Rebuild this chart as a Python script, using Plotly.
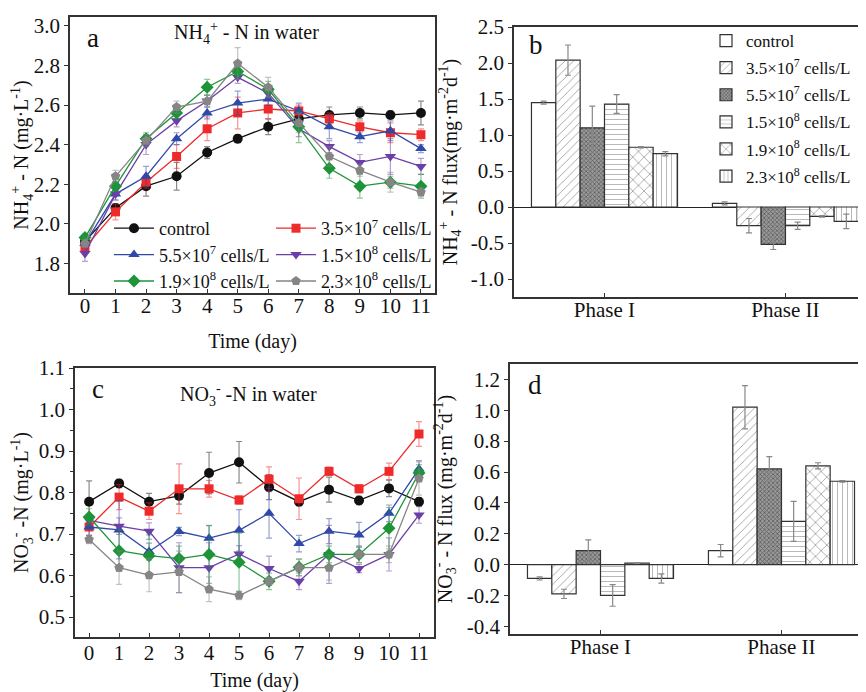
import plotly.graph_objects as go

# ---------------- data ----------------
days = list(range(12))
series_names = ["control", "3.5×10<sup>7</sup> cells/L", "5.5×10<sup>7</sup> cells/L",
                "1.5×10<sup>8</sup> cells/L", "1.9×10<sup>8</sup> cells/L", "2.3×10<sup>8</sup> cells/L"]

nh4_control = [1.91, 2.08, 2.19, 2.24, 2.36, 2.43, 2.49, 2.53, 2.55, 2.56, 2.55, 2.56]
nh4_35e7    = [1.88, 2.06, 2.21, 2.34, 2.48, 2.56, 2.58, 2.57, 2.53, 2.49, 2.46, 2.45]
nh4_55e7    = [1.90, 2.15, 2.24, 2.43, 2.56, 2.61, 2.63, 2.57, 2.49, 2.44, 2.47, 2.38]
nh4_15e8    = [1.85, 2.15, 2.40, 2.52, 2.62, 2.74, 2.66, 2.48, 2.39, 2.31, 2.34, 2.29]
nh4_19e8    = [1.93, 2.19, 2.43, 2.56, 2.69, 2.77, 2.68, 2.49, 2.28, 2.19, 2.21, 2.19]
nh4_23e8    = [1.90, 2.24, 2.42, 2.59, 2.62, 2.81, 2.69, 2.51, 2.34, 2.27, 2.21, 2.16]

nh4_err_control = [0.02, 0.02, 0.05, 0.07, 0.03, 0.02, 0.04, 0.03, 0.04, 0.03, 0.02, 0.06]
nh4_err_35e7    = [0.02, 0.04, 0.03, 0.06, 0.06, 0.08, 0.05, 0.03, 0.03, 0.03, 0.05, 0.03]
nh4_err_55e7    = [0.02, 0.03, 0.05, 0.03, 0.03, 0.06, 0.03, 0.04, 0.06, 0.03, 0.05, 0.02]
nh4_err_15e8    = [0.04, 0.03, 0.05, 0.03, 0.03, 0.03, 0.03, 0.04, 0.03, 0.04, 0.09, 0.04]
nh4_err_19e8    = [0.02, 0.02, 0.03, 0.03, 0.04, 0.03, 0.04, 0.08, 0.05, 0.06, 0.03, 0.06]
nh4_err_23e8    = [0.02, 0.03, 0.03, 0.03, 0.03, 0.08, 0.05, 0.05, 0.05, 0.03, 0.05, 0.02]

no3_control = [0.778, 0.822, 0.778, 0.792, 0.847, 0.873, 0.813, 0.778, 0.807, 0.781, 0.810, 0.778]
no3_35e7    = [0.717, 0.789, 0.755, 0.809, 0.809, 0.782, 0.832, 0.785, 0.851, 0.809, 0.851, 0.941]
no3_55e7    = [0.717, 0.710, 0.658, 0.706, 0.690, 0.709, 0.750, 0.677, 0.707, 0.698, 0.750, 0.857]
no3_15e8    = [0.733, 0.719, 0.707, 0.619, 0.619, 0.652, 0.617, 0.586, 0.651, 0.617, 0.651, 0.746]
no3_19e8    = [0.741, 0.660, 0.648, 0.641, 0.651, 0.632, 0.586, 0.620, 0.651, 0.651, 0.714, 0.847]
no3_23e8    = [0.687, 0.619, 0.601, 0.609, 0.567, 0.552, 0.586, 0.619, 0.619, 0.651, 0.651, 0.834]

no3_err_control = [0.05, 0.01, 0.02, 0.02, 0.05, 0.05, 0.03, 0.01, 0.03, 0.01, 0.02, 0.01]
no3_err_35e7    = [0.02, 0.03, 0.02, 0.06, 0.02, 0.01, 0.03, 0.05, 0.01, 0.01, 0.02, 0.03]
no3_err_55e7    = [0.02, 0.07, 0.02, 0.01, 0.03, 0.05, 0.06, 0.02, 0.03, 0.03, 0.02, 0.02]
no3_err_15e8    = [0.01, 0.02, 0.02, 0.06, 0.06, 0.02, 0.03, 0.02, 0.07, 0.01, 0.04, 0.02]
no3_err_19e8    = [0.02, 0.05, 0.05, 0.03, 0.07, 0.07, 0.02, 0.02, 0.02, 0.02, 0.05, 0.02]
no3_err_23e8    = [0.01, 0.04, 0.04, 0.05, 0.03, 0.01, 0.01, 0.02, 0.03, 0.02, 0.02, 0.04]

phases = ["Phase I", "Phase II"]
nh4_flux     = [[1.45, 0.05], [2.04, -0.26], [1.10, -0.52], [1.43, -0.26], [0.83, -0.13], [0.74, -0.20]]
nh4_flux_err = [[0.02, 0.02], [0.21, 0.10], [0.30, 0.07], [0.13, 0.05], [0.01, 0.01], [0.03, 0.10]]
no3_flux     = [[-0.09, 0.09], [-0.19, 1.02], [0.09, 0.62], [-0.20, 0.28], [0.01, 0.64], [-0.09, 0.54]]
no3_flux_err = [[0.01, 0.04], [0.03, 0.14], [0.07, 0.08], [0.07, 0.13], [0.003, 0.02], [0.03, 0.005]]

nh4_flux_ticks = [-1.0, -0.5, 0.0, 0.5, 1.0, 1.5, 2.0, 2.5]
no3_flux_ticks = [-0.4, -0.2, 0.0, 0.2, 0.4, 0.6, 0.8, 1.0, 1.2]

# ---------------- styles ----------------
FONT = "Liberation Serif"
line_colors = ["#111111", "#EE2A2A", "#3048A8", "#6B3FA8", "#1E9438", "#858585"]
err_colors = ["rgba(60,60,60,0.6)", "rgba(238,42,42,0.5)", "rgba(48,72,168,0.5)",
              "rgba(107,63,168,0.5)", "rgba(30,148,56,0.5)", "rgba(133,133,133,0.5)"]
symbols = ["circle", "square", "triangle-up", "triangle-down", "diamond", "pentagon"]
msizes = [10, 9, 10, 10, 10, 10]
patterns = [dict(shape=""), dict(shape="/", size=6, solidity=0.15, fgcolor="#444", bgcolor="white"),
            dict(shape="x", size=3, solidity=0.45, fgcolor="#222", bgcolor="#999"),
            dict(shape="-", size=5, solidity=0.15, fgcolor="#444", bgcolor="white"),
            dict(shape="x", size=8, solidity=0.2, fgcolor="#444", bgcolor="white"),
            dict(shape="|", size=5, solidity=0.15, fgcolor="#444", bgcolor="white")]

nh4_series = [nh4_control, nh4_35e7, nh4_55e7, nh4_15e8, nh4_19e8, nh4_23e8]
nh4_errs = [nh4_err_control, nh4_err_35e7, nh4_err_55e7, nh4_err_15e8, nh4_err_19e8, nh4_err_23e8]
no3_series = [no3_control, no3_35e7, no3_55e7, no3_15e8, no3_19e8, no3_23e8]
no3_errs = [no3_err_control, no3_err_35e7, no3_err_55e7, no3_err_15e8, no3_err_19e8, no3_err_23e8]

fig = go.Figure()

for i in range(6):
    fig.add_trace(go.Scatter(
        x=days, y=nh4_series[i], name=series_names[i], mode="lines+markers",
        line=dict(color=line_colors[i], width=1.3),
        marker=dict(symbol=symbols[i], size=msizes[i], color=line_colors[i]),
        error_y=dict(type="data", array=nh4_errs[i], color=err_colors[i], thickness=1.2, width=3),
        xaxis="x", yaxis="y", legend="legend" if i % 2 == 0 else "legend2"))

for i in range(6):
    fig.add_trace(go.Scatter(
        x=days, y=no3_series[i], name=series_names[i], mode="lines+markers", showlegend=False,
        line=dict(color=line_colors[i], width=1.3),
        marker=dict(symbol=symbols[i], size=msizes[i], color=line_colors[i]),
        error_y=dict(type="data", array=no3_errs[i], color=err_colors[i], thickness=1.2, width=3),
        xaxis="x3", yaxis="y3"))

for i in range(6):
    fig.add_trace(go.Bar(
        x=phases, y=nh4_flux[i], name=series_names[i], legendgroup="g%d" % i,
        marker=dict(color="white", line=dict(color="#333", width=1.2), pattern=patterns[i]),
        error_y=dict(type="data", array=nh4_flux_err[i], color="#888", thickness=1.2, width=3),
        xaxis="x2", yaxis="y2", legend="legend3"))

for i in range(6):
    fig.add_trace(go.Bar(
        x=phases, y=no3_flux[i], name=series_names[i], showlegend=False, legendgroup="g%d" % i,
        marker=dict(color="white", line=dict(color="#333", width=1.2), pattern=patterns[i]),
        error_y=dict(type="data", array=no3_flux_err[i], color="#888", thickness=1.2, width=3),
        xaxis="x4", yaxis="y4"))

OFF = 8  # page body margin: screen px = figure px + 8
W, H = 866 - OFF, 692 - OFF
def dx(a, b): return [(a - OFF) / W, min((b - OFF) / W, 1.0)]
def dy(top, bot): return [1 - (bot - OFF) / H, 1 - (top - OFF) / H]
def px(x): return (x - OFF) / W
def py(y): return 1 - (y - OFF) / H

def fmt(v):
    return "%.1f" % v

axcommon = dict(showline=True, linecolor="#333", linewidth=1.5, ticks="outside", ticklen=4,
                tickcolor="#333", showgrid=False, zeroline=False, automargin=False,
                tickfont=dict(family=FONT, size=21, color="#111"),
                title_font=dict(family=FONT, size=20, color="#111"))
xin = dict(ticks="inside", ticklen=4)

fig.update_layout(
    width=W, height=H, margin=dict(l=0, r=0, t=0, b=0),
    paper_bgcolor="white", plot_bgcolor="white",
    font=dict(family=FONT, color="#111"),
    barmode="group", bargap=0.193, bargroupgap=0,
    xaxis=dict(axcommon, **xin, domain=dx(70, 435), range=[-0.49, 11.46], tickvals=days, mirror=True,
               anchor="y", ticklabelstandoff=-7, title=dict(text="Time (day)", standoff=17)),
    yaxis=dict(axcommon, domain=dy(17, 293), range=[1.65, 3.045], dtick=0.2, tickformat=".1f",
               mirror=True, anchor="x",
               title=dict(text="NH<sub>4</sub><sup>+</sup> - N (mg·L<sup>-1</sup>)", standoff=3)),
    xaxis2=dict(axcommon, **xin, domain=dx(514, 866), range=[-0.5, 1.445], mirror=True, anchor="y2",
                ticklabelstandoff=-7),
    yaxis2=dict(axcommon, domain=dy(27, 297), range=[-1.25, 2.5], tickvals=nh4_flux_ticks,
                ticktext=[fmt(v) for v in nh4_flux_ticks],
                anchor="x2", zeroline=True, zerolinecolor="#222", zerolinewidth=1.2,
                title=dict(text="NH<sub>4</sub><sup>+</sup> - N flux(mg·m<sup>-2</sup>d<sup>-1</sup>)", standoff=8)),
    xaxis3=dict(axcommon, **xin, domain=dx(75, 434), range=[-0.47, 11.5], tickvals=days, mirror=True,
                anchor="y3", ticklabelstandoff=-4, title=dict(text="Time (day)", standoff=12)),
    yaxis3=dict(axcommon, domain=dy(368, 637), range=[0.452, 1.1], dtick=0.1, tickformat=".1f",
                mirror=True, anchor="x3", minor=dict(dtick=0.05, ticks="outside", ticklen=3, tickcolor="#333"),
                title=dict(text="NO<sub>3</sub><sup>-</sup> -N (mg·L<sup>-1</sup>)", standoff=9)),
    xaxis4=dict(axcommon, **xin, domain=dx(510, 866), range=[-0.5, 1.467], mirror=True, anchor="y4",
                ticklabelstandoff=-7),
    yaxis4=dict(axcommon, domain=dy(364, 634), range=[-0.45, 1.3], tickvals=no3_flux_ticks,
                ticktext=[fmt(v) for v in no3_flux_ticks],
                anchor="x4", zeroline=True, zerolinecolor="#222", zerolinewidth=1.2,
                title=dict(text="NO<sub>3</sub><sup>-</sup> - N flux (mg·m<sup>-2</sup>d<sup>-1</sup>)", standoff=9)),
    legend=dict(x=px(109), y=py(210), xanchor="left", yanchor="top", bgcolor="rgba(0,0,0,0)",
                font=dict(family=FONT, size=18), tracegroupgap=0, itemwidth=40),
    legend2=dict(x=px(271), y=py(210), xanchor="left", yanchor="top", bgcolor="rgba(0,0,0,0)",
                 font=dict(family=FONT, size=18), tracegroupgap=0, itemwidth=40),
    legend3=dict(x=px(706), y=py(23), xanchor="left", yanchor="top", bgcolor="rgba(0,0,0,0)",
                 font=dict(family=FONT, size=17), tracegroupgap=2, itemwidth=30),
)

ann = [
    dict(text="a", x=px(93), y=py(38), size=27),
    dict(text="b", x=px(536), y=py(45), size=27),
    dict(text="c", x=px(98), y=py(389), size=27),
    dict(text="d", x=px(535), y=py(385), size=27),
    dict(text="NH<sub>4</sub><sup>+</sup> - N in water", x=px(246), y=py(33), size=20),
    dict(text="NO<sub>3</sub><sup>-</sup> -N in water", x=px(249), y=py(395), size=20),
]
for a in ann:
    fig.add_annotation(text=a["text"], x=a["x"], y=a["y"], xref="paper", yref="paper",
                       showarrow=False, xanchor="center", yanchor="middle",
                       font=dict(family=FONT, size=a["size"], color="#111"))

fig.write_html("out.html")
